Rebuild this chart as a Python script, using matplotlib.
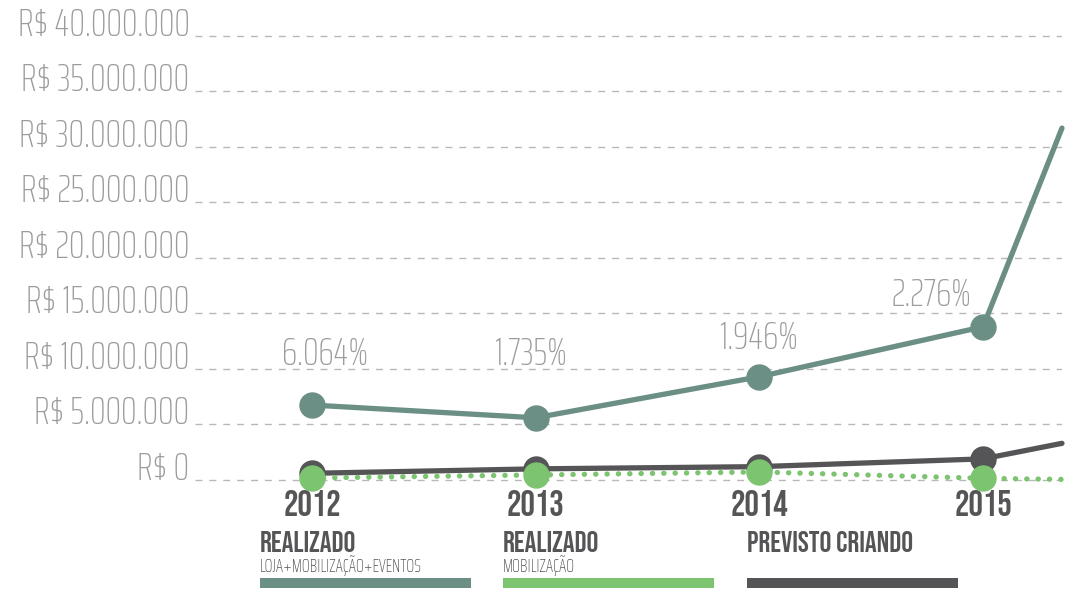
import matplotlib
matplotlib.use('Agg')
import matplotlib.pyplot as plt
from matplotlib.patches import Rectangle

thin_font = ['Saira ExtraCondensed', 'Barlow Condensed', 'DejaVu Sans']
bold_font = ['Bebas Neue', 'Oswald', 'DejaVu Sans']
plt.rcParams['font.family'] = thin_font

# data (R$)
years = [2012, 2013, 2014, 2015]
x_end = 2015.353  # lines continue past 2015 to the right edge
realizado_total = [6.75e6, 5.6e6, 9.3e6, 13.8e6]
realizado_total_end = 31.7e6
previsto = [0.6e6, 1.0e6, 1.2e6, 1.9e6]
previsto_end = 3.3e6
realizado_mob = [0.18e6, 0.45e6, 0.72e6, 0.15e6]
realizado_mob_end = 0.05e6
pct_labels = ['6.064%', '1.735%', '1.946%', '2.276%']
pct_pos = [(2012.06, 11.35e6), (2012.98, 11.35e6), (2014.0, 12.75e6), (2014.77, 16.7e6)]
yticks = [0, 5e6, 10e6, 15e6, 20e6, 25e6, 30e6, 35e6, 40e6]
ytick_labels = ['R$ 0', 'R$ 5.000.000', 'R$ 10.000.000', 'R$ 15.000.000', 'R$ 20.000.000',
                'R$ 25.000.000', 'R$ 30.000.000', 'R$ 35.000.000', 'R$ 40.000.000']

teal = '#6b8e85'
green = '#7dc470'
dark = '#555557'
grey_txt = '#9b9b9e'

fig = plt.figure(figsize=(10.75, 5.9), dpi=100)
ax = fig.add_axes([0.1814, 0.1771, 0.8065, 0.7714])
ax.set_xlim(2011.477, 2015.353)
ax.set_ylim(-0.5e6, 40.5e6)

for spine in ax.spines.values():
    spine.set_visible(False)
for y in yticks:
    ax.axhline(y, color='#b8b8b8', lw=1, ls=(0, (5, 5)), zorder=0)

ax.set_yticks(yticks)
ax.set_yticklabels(ytick_labels, fontsize=28, color=grey_txt, fontweight='light')
for lab in ax.get_yticklabels():
    lab.set_verticalalignment('baseline')
ax.tick_params(axis='y', length=0, pad=4)
ax.set_xticks(years)
ax.set_xticklabels([str(y) for y in years], fontsize=26, color=dark, family=bold_font)
ax.tick_params(axis='x', length=0, pad=3)

# lines
ax.plot(years + [x_end], realizado_total + [realizado_total_end], color=teal, lw=3.8,
        solid_capstyle='round', clip_on=False, zorder=3)
ax.plot(years, realizado_total, 'o', color=teal, ms=18, clip_on=False, zorder=3)

ax.plot(years + [x_end], previsto + [previsto_end], color=dark, lw=3.8,
        solid_capstyle='round', clip_on=False, zorder=4)
ax.plot(years, previsto, 'o', color=dark, ms=18, clip_on=False, zorder=4)

ax.plot(years + [x_end], realizado_mob + [realizado_mob_end], color=green, lw=3.8,
        ls=(0, (0.05, 2.1)), dash_capstyle='round', clip_on=False, zorder=5)
ax.plot(years, realizado_mob, 'o', color=green, ms=18, clip_on=False, zorder=5)

for txt, (px, py) in zip(pct_labels, pct_pos):
    ax.text(px, py, txt, fontsize=28, color=grey_txt, fontweight='light',
            ha='center', va='center')

# legend at the bottom
legend_items = [('REALIZADO', 'LOJA+MOBILIZAÇÃO+EVENTOS', teal, 260),
                ('REALIZADO', 'MOBILIZAÇÃO', green, 503),
                ('PREVISTO CRIANDO', '', dark, 747)]
for title, sub, col, px in legend_items:
    fx = px / 1075
    fig.text(fx, 1 - 542 / 590, title, fontsize=21.2, color=dark, family=bold_font,
             ha='left', va='center')
    if sub:
        fig.text(fx, 1 - 565 / 590, sub, fontsize=13.3, color=dark, fontweight='light',
                 ha='left', va='center')
    fig.add_artist(Rectangle((fx, 1 - 588 / 590), 211 / 1075, 10 / 590,
                             transform=fig.transFigure, color=col, lw=0))

fig.savefig('out.png', dpi=100)
